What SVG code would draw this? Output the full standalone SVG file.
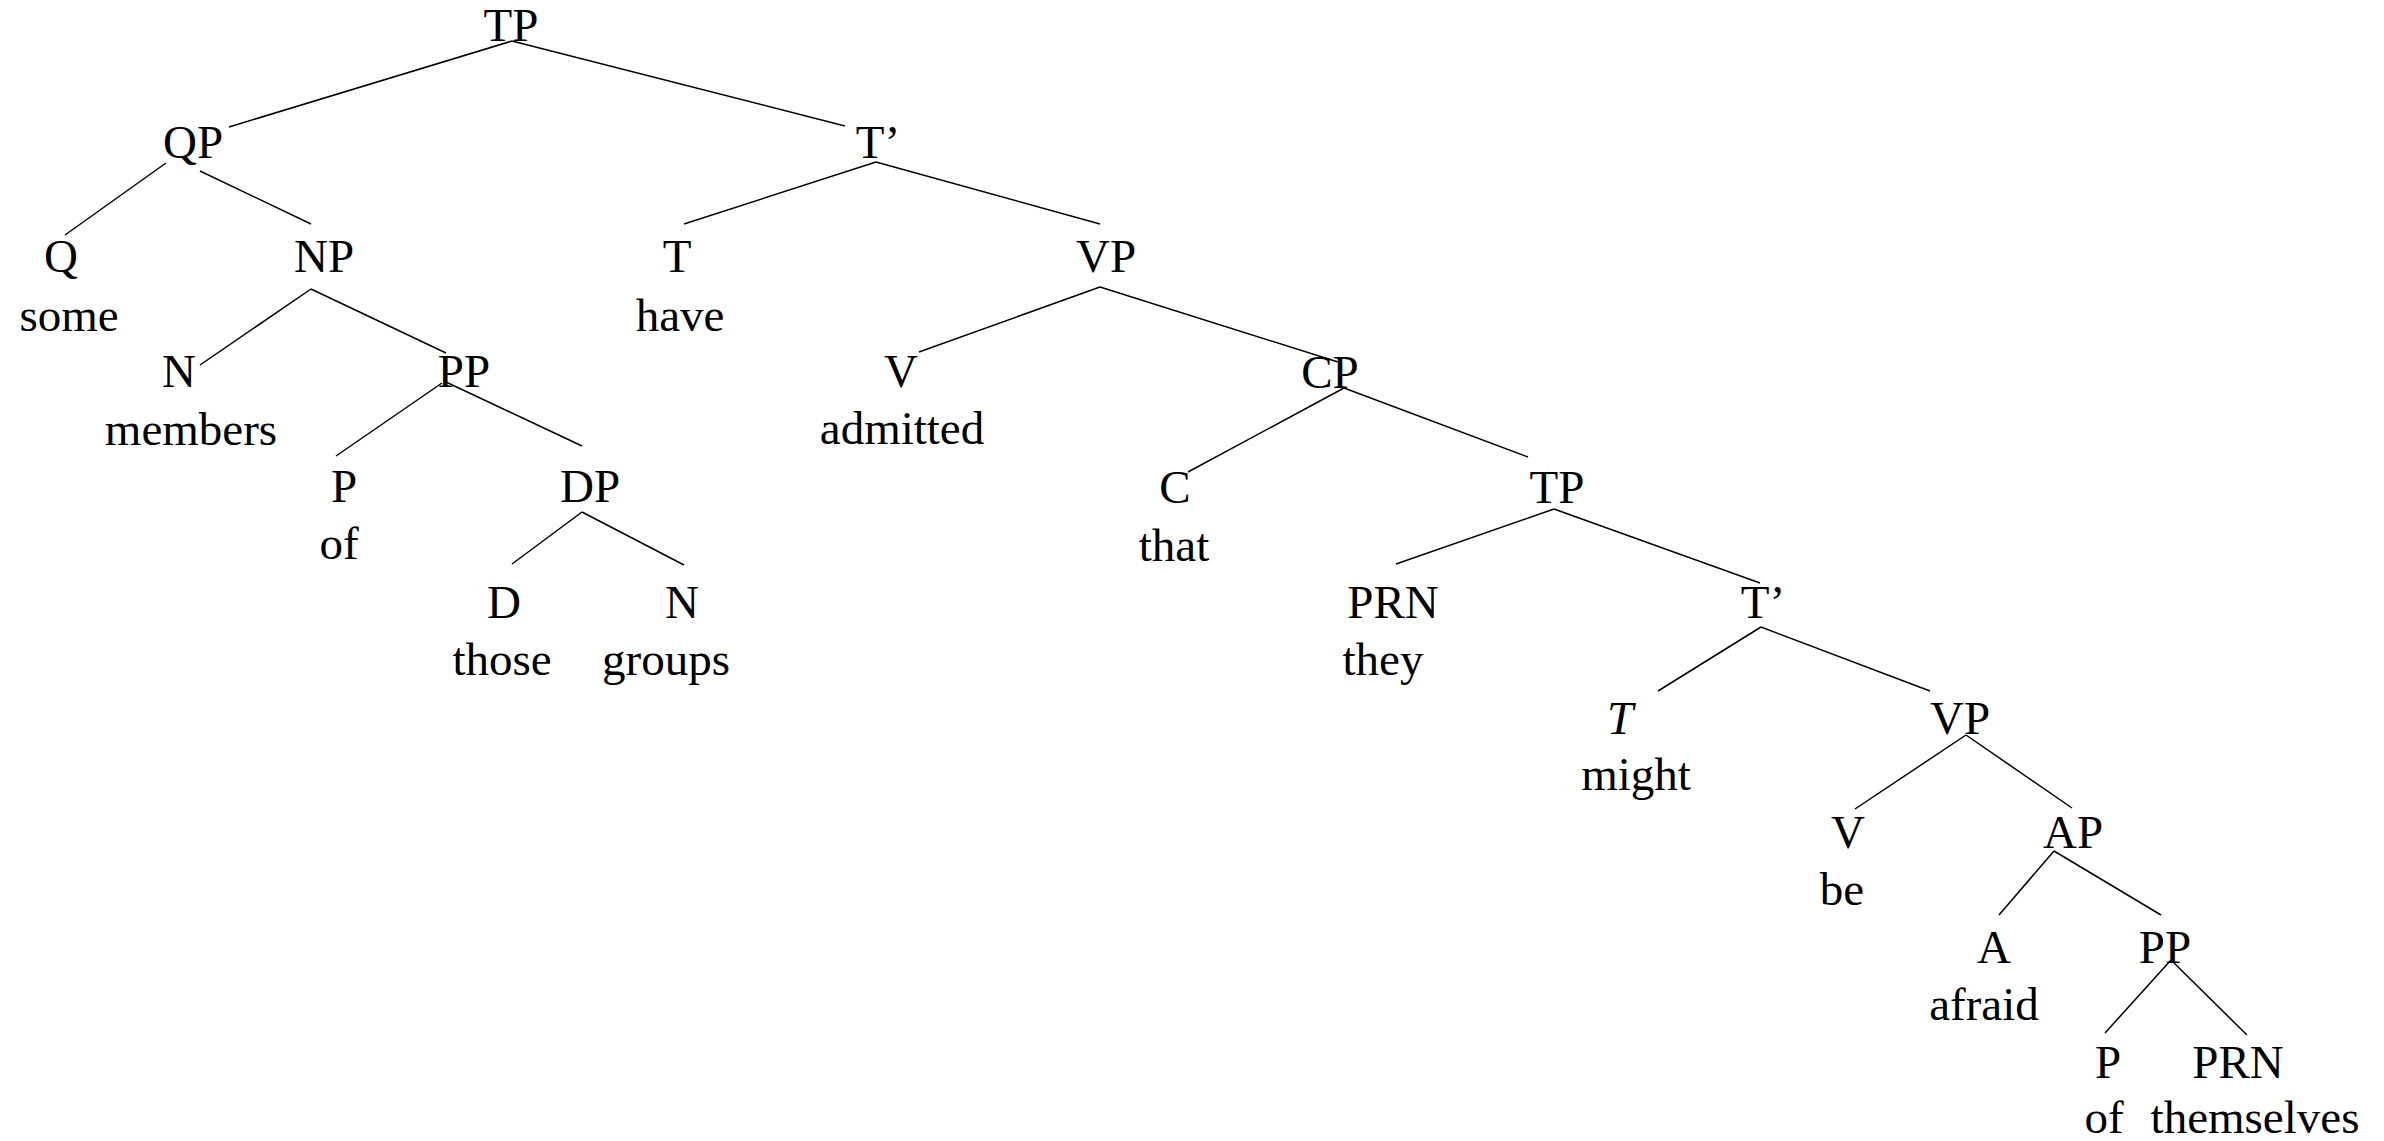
<svg xmlns="http://www.w3.org/2000/svg" width="2384" height="1141" viewBox="0 0 2384 1141">
<style>
text{font-family:"Liberation Serif","Times New Roman",serif;font-size:47px;fill:#000;text-anchor:middle}
.i{font-style:italic}
#edges line{stroke:#000;stroke-width:1.5;fill:none}
</style>
<rect width="2384" height="1141" fill="#fff"/>
<g id="edges">
<line x1="512" y1="41" x2="229" y2="127"/>
<line x1="512" y1="41" x2="845" y2="126"/>
<line x1="166" y1="163" x2="65" y2="235"/>
<line x1="200" y1="171" x2="311" y2="224"/>
<line x1="876" y1="162" x2="684" y2="224"/>
<line x1="876" y1="162" x2="1100" y2="224"/>
<line x1="311" y1="289" x2="200" y2="365"/>
<line x1="311" y1="289" x2="446" y2="353"/>
<line x1="1100" y1="287" x2="919" y2="352"/>
<line x1="1100" y1="287" x2="1338" y2="362"/>
<line x1="442" y1="383" x2="336" y2="456"/>
<line x1="446" y1="382" x2="582" y2="446"/>
<line x1="1344" y1="388" x2="1188" y2="472"/>
<line x1="1344" y1="388" x2="1528" y2="457"/>
<line x1="582" y1="512" x2="512" y2="564"/>
<line x1="582" y1="512" x2="684" y2="565"/>
<line x1="1554" y1="509" x2="1396" y2="564"/>
<line x1="1554" y1="509" x2="1760" y2="583"/>
<line x1="1761" y1="627" x2="1658" y2="691"/>
<line x1="1761" y1="627" x2="1930" y2="691"/>
<line x1="1966" y1="735" x2="1855" y2="809"/>
<line x1="1966" y1="735" x2="2072" y2="808"/>
<line x1="2054" y1="851" x2="1999" y2="915"/>
<line x1="2054" y1="851" x2="2161" y2="915"/>
<line x1="2171" y1="960" x2="2105" y2="1033"/>
<line x1="2171" y1="960" x2="2247" y2="1035"/>
</g>
<g id="n-tp1"><text x="511" y="41">TP</text></g>
<g id="n-qp"><text x="193" y="158">QP</text></g>
<g id="n-tbar1"><text x="878" y="158">T’</text></g>
<g id="n-q"><text x="61" y="272">Q</text><text x="69" y="331">some</text></g>
<g id="n-np"><text x="324" y="272">NP</text></g>
<g id="n-t1"><text x="677" y="272">T</text><text x="680" y="331">have</text></g>
<g id="n-vp1"><text x="1106" y="272">VP</text></g>
<g id="n-n1"><text x="179" y="387">N</text><text x="191" y="445">members</text></g>
<g id="n-pp1"><text x="464" y="387">PP</text></g>
<g id="n-v1"><text x="901" y="387">V</text><text x="902" y="444">admitted</text></g>
<g id="n-cp"><text x="1330" y="388">CP</text></g>
<g id="n-p1"><text x="344" y="502">P</text><text x="339" y="559">of</text></g>
<g id="n-dp"><text x="590" y="502">DP</text></g>
<g id="n-c"><text x="1175" y="503">C</text><text x="1174" y="561">that</text></g>
<g id="n-tp2"><text x="1557" y="503">TP</text></g>
<g id="n-d"><text x="504" y="618">D</text><text x="502" y="675">those</text></g>
<g id="n-n2"><text x="682" y="618">N</text><text x="666" y="675">groups</text></g>
<g id="n-prn1"><text x="1393" y="618">PRN</text><text x="1383" y="675">they</text></g>
<g id="n-tbar2"><text x="1763" y="618">T’</text></g>
<g id="n-t2"><text class="i" x="1620" y="734">T</text><text x="1636" y="790">might</text></g>
<g id="n-vp2"><text x="1960" y="734">VP</text></g>
<g id="n-v2"><text x="1848" y="848">V</text><text x="1842" y="905">be</text></g>
<g id="n-ap"><text x="2073" y="848">AP</text></g>
<g id="n-a"><text x="1994" y="963">A</text><text x="1984" y="1020">afraid</text></g>
<g id="n-pp2"><text x="2165" y="963">PP</text></g>
<g id="n-p2"><text x="2108" y="1078">P</text><text x="2104" y="1133">of</text></g>
<g id="n-prn2"><text x="2238" y="1078">PRN</text><text x="2255" y="1133">themselves</text></g>
</svg>
